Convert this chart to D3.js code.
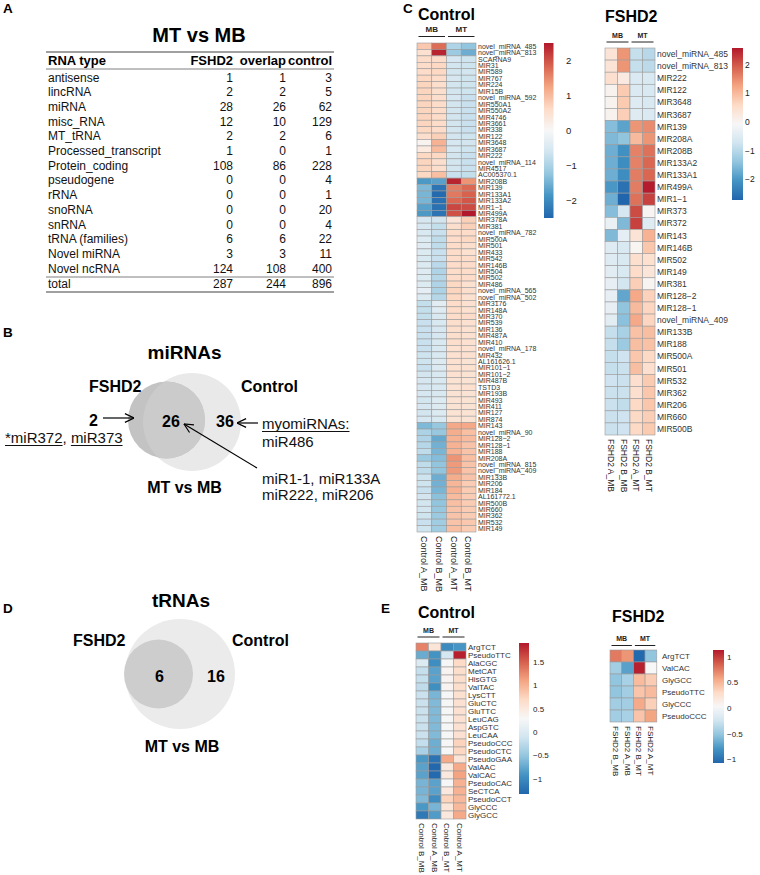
<!DOCTYPE html>
<html><head><meta charset="utf-8">
<script src="https://cdn.jsdelivr.net/npm/d3@7"></script>
<style>body{margin:0;background:#fff}svg{display:block}text{font-family:"Liberation Sans",Arial,Helvetica,sans-serif}</style>
</head><body><svg id="fig" width="760" height="875"></svg>
<script>
// ---------------- DATA ----------------
const tableHeader = ["RNA type", "FSHD2", "overlap", "control"];
const rnaTypes = ["antisense","lincRNA","miRNA","misc_RNA","MT_tRNA","Processed_transcript","Protein_coding","pseudogene","rRNA","snoRNA","snRNA","tRNA (families)","Novel miRNA","Novel ncRNA"];
const fshd2Counts   = [1,2,28,12,2,1,108,0,0,0,0,6,3,124];
const overlapCounts = [1,2,26,10,2,0,86,0,0,0,0,6,3,108];
const controlCounts = [3,5,62,129,6,1,228,4,1,20,4,22,11,400];
const totalCounts   = [287,244,896];

const miVennCounts = [2, 26, 36];   // FSHD2 only, overlap, Control only
const tVennCounts  = [6, 16];       // overlap, Control only

const palette = ["#2166ac","#4393c3","#92c5de","#d1e5f0","#f7f7f7","#fddbc7","#f4a582","#d6604d","#b2182b"];

// Control miRNA heatmap
const ctrlMiRows = ["novel_miRNA_485","novel_miRNA_813","SCARNA9","MIR31","MIR589","MIR767","MIR224","MIR15B","novel_miRNA_592","MIR550A1","MIR550A2","MIR4746","MIR3661","MIR338","MIR122","MIR3648","MIR3687","MIR222","novel_miRNA_114","MIR4517","AC005370.1","MIR208B","MIR139","MIR133A1","MIR133A2","MIR1\u22121","MIR499A","MIR378A","MIR381","novel_miRNA_782","MIR500A","MIR501","MIR433","MIR542","MIR146B","MIR504","MIR502","MIR486","novel_miRNA_565","novel_miRNA_502","MIR3176","MIR148A","MIR370","MIR539","MIR136","MIR487A","MIR410","novel_miRNA_178","MIR432","AL161626.1","MIR101\u22121","MIR101\u22122","MIR487B","TSTD3","MIR193B","MIR493","MIR411","MIR127","MIR874","MIR143","novel_miRNA_90","MIR128\u22122","MIR128\u22121","MIR188","MIR208A","novel_miRNA_815","novel_miRNA_409","MIR133B","MIR206","MIR184","AL161772.1","MIR500B","MIR660","MIR362","MIR532","MIR149"];
const ctrlMiCols = ["Control A_MB","Control B_MB","Control A_MT","Control B_MT"];
const ctrlMi_A_MB = [0.85,0.5, 0.6,0.6,0.6,0.65,0.7,0.7,0.7,0.7,0.7,0.7,0.7,0.65,0.55,0.1,0.3,0.65,0.7,0.7,0.65, -1.8,-1.4,-1.45,-1.45,-1.7,-1.8, -0.55,-0.55,-0.5,-0.45,-0.4,-0.45,-0.5,-0.45,-0.4,-0.45,-0.45,-0.3,-0.45, -0.75,-0.75,-0.75,-0.7,-0.7,-0.7,-0.7,-0.7,-0.65,-0.65,-0.7,-0.6,-0.55,-0.55,-0.55,-0.6,-0.55,-0.6,-0.55, -1.4,-1.0,-0.95,-0.9,-0.8,-1.15,-0.8,-0.8,-0.65,-0.65,-0.7,-0.6,-0.6,-0.6,-0.65,-0.7,-0.65];
const ctrlMi_B_MB = [1.75,2.4, 0.6,0.65,0.65,0.6,0.55,0.55,0.55,0.6,0.6,0.6,0.6,0.6,0.75,1.1,1.0,0.65,0.55,0.55,0.95, -1.7,-2.3,-2.45,-2.35,-2.35,-2.3, -0.6,-0.75,-0.7,-0.8,-0.8,-0.7,-0.7,-0.85,-0.95,-0.9,-0.95,-1.0,-0.9, -0.35,-0.4,-0.5,-0.5,-0.55,-0.55,-0.5,-0.5,-0.5,-0.45,-0.45,-0.5,-0.5,-0.5,-0.5,-0.45,-0.45,-0.45,-0.5, -1.2,-1.2,-1.6,-1.5,-1.45,-1.35,-1.25,-1.25,-1.55,-1.5,-1.45,-1.3,-1.25,-1.2,-1.15,-1.1,-1.1];
const ctrlMi_A_MT = [-0.95,-1.15, -0.55,-0.6,-0.6,-0.55,-0.6,-0.6,-0.55,-0.6,-0.6,-0.6,-0.6,-0.6,-0.6,-0.55,-0.55,-0.6,-0.6,-0.6,-0.7, 2.4,1.6,1.65,1.8,2.1,2.0, 0.4,0.55,0.6,0.6,0.6,0.6,0.6,0.6,0.6,0.6,0.65,0.7,0.65, 0.6,0.6,0.6,0.55,0.55,0.55,0.55,0.5,0.5,0.5,0.5,0.5,0.45,0.45,0.45,0.45,0.45,0.45,0.45, 1.2,1.15,1.1,1.1,1.1,1.4,1.35,1.35,1.15,1.05,1.1,1.0,0.95,0.9,0.9,0.9,0.95];
const ctrlMi_B_MT = [-1.25,-1.55, -0.65,-0.65,-0.6,-0.65,-0.65,-0.65,-0.7,-0.7,-0.7,-0.7,-0.7,-0.7,-0.65,-0.6,-0.65,-0.7,-0.7,-0.7,-0.75, 1.4,1.8,1.85,1.95,2.05,2.5, 0.75,0.75,0.6,0.65,0.55,0.5,0.6,0.6,0.6,0.6,0.5,0.55,0.5, 0.5,0.5,0.6,0.5,0.5,0.5,0.5,0.5,0.5,0.45,0.5,0.45,0.45,0.5,0.45,0.45,0.45,0.45,0.45, 1.2,0.95,1.0,0.9,0.9,0.95,0.9,0.9,0.9,0.8,0.8,0.8,0.8,0.8,0.8,0.85,0.8];
const ctrlMiRange = [-2.5, 2.5];
const ctrlMiTicks = [2, 1, 0, -1, -2];

// FSHD2 miRNA heatmap
const fshdMiRows = ["novel_miRNA_485","novel_miRNA_813","MIR222","MIR122","MIR3648","MIR3687","MIR139","MIR208A","MIR208B","MIR133A2","MIR133A1","MIR499A","MIR1\u22121","MIR373","MIR372","MIR143","MIR146B","MIR502","MIR149","MIR381","MIR128\u22122","MIR128\u22121","novel_miRNA_409","MIR133B","MIR188","MIR500A","MIR501","MIR532","MIR362","MIR206","MIR660","MIR500B"];
const fshdMiCols = ["FSHD2 A_MB","FSHD2 B_MB","FSHD2 A_MT","FSHD2 B_MT"];
const fshdMi_A_MB = [0.4,0.4,0.5,0.05,0.05,0.05,-1.5,-1.55,-1.7,-1.7,-1.7,-2.0,-1.7,-1.5,-0.3,-1.55,-0.5,-0.5,-0.45,-0.35,-0.35,-0.35,-0.45,-0.85,-0.85,-0.85,-0.85,-0.75,-0.8,-0.8,-0.8,-0.8];
const fshdMi_B_MB = [1.4,1.4,0.25,0.8,0.8,0.75,-1.85,-1.4,-2.1,-2.15,-2.15,-2.55,-2.72,-0.65,-1.55,-0.4,-0.6,-0.6,-0.6,-0.7,-1.8,-1.4,-1.45,-1.15,-1.3,-0.75,-0.8,-0.8,-0.8,-0.9,-0.75,-0.75];
const fshdMi_A_MT = [-0.86,-0.86,-0.55,-0.55,-0.5,-0.5,1.4,1.0,1.6,1.6,1.65,1.65,1.75,2.1,2.2,0.4,0.0,0.5,0.55,0.75,1.2,1.0,1.2,0.9,0.95,0.85,0.95,0.5,0.5,0.6,0.6,0.6];
const fshdMi_B_MT = [-1.0,-0.95,-0.6,-0.6,-0.6,-0.55,1.5,1.4,1.75,1.85,1.85,2.55,2.2,0.0,-0.5,1.1,0.85,0.45,0.35,0.0,0.7,0.65,0.65,0.95,0.9,0.6,0.5,0.8,0.85,0.85,0.75,0.8];
const fshdMiRange = [-2.72, 2.58];
const fshdMiTicks = [2, 1, 0, -1, -2];

// Control tRNA heatmap
const ctrlTRows = ["ArgTCT","PseudoTTC","AlaCGC","MetCAT","HisGTG","ValTAC","LysCTT","GluCTC","GluTTC","LeuCAG","AspGTC","LeuCAA","PseudoCCC","PseudoCTC","PseudoGAA","ValAAC","ValCAC","PseudoCAC","SeCTCA","PseudoCCT","GlyCCC","GlyGCC"];
const ctrlTCols = ["Control B_MB","Control A_MB","Control B_MT","Control A_MT"];
const ctrlT_B_MB = [1.3,-0.72,0.0,-0.19,-0.19,-0.22,-0.15,-0.15,-0.15,-0.15,-0.15,-0.15,-0.2,-0.36,-0.88,-0.8,-0.8,-0.65,-0.65,-0.6,-0.88,-1.15];
const ctrlT_A_MB = [0.55,-0.92,-0.96,-0.8,-0.8,-0.95,-0.64,-0.6,-0.6,-0.6,-0.6,-0.6,-0.7,-0.7,-1.2,-1.3,-1.28,-0.8,-0.8,-0.97,-0.65,-0.85];
const ctrlT_B_MT = [-1.0,-0.07,0.3,0.35,0.35,0.35,0.3,0.3,0.3,0.3,0.3,0.3,0.3,0.3,1.05,0.5,0.5,0.3,0.5,0.75,0.55,0.5];
const ctrlT_A_MT = [-0.9,1.86,0.69,0.65,0.65,0.65,0.62,0.6,0.6,0.6,0.6,0.6,0.75,0.72,0.55,1.05,1.1,1.0,1.0,0.95,0.95,1.05];
const ctrlTRange = [-1.32, 1.9];
const ctrlTTicks = [1.5, 1, 0.5, 0, -0.5, -1];

// FSHD2 tRNA heatmap
const fshdTRows = ["ArgTCT","ValCAC","GlyGCC","PseudoTTC","GlyCCC","PseudoCCC"];
const fshdTCols = ["FSHD2 B_MB","FSHD2 A_MB","FSHD2 B_MT","FSHD2 A_MT"];
const fshdT_B_MB = [0.75,-0.45,-0.52,-0.52,-0.45,-0.45];
const fshdT_A_MB = [0.64,-0.72,-0.42,-0.45,-0.45,-0.42];
const fshdT_B_MT = [-1.05,1.1,0.47,0.42,0.55,0.42];
const fshdT_A_MT = [-0.52,0.03,0.38,0.47,0.36,0.58];
const fshdTRange = [-1.07, 1.13];
const fshdTTicks = [1, 0.5, 0, -0.5, -1];

// ---------------- DRAW ----------------
const svg = d3.select("#fig");
const defs = svg.append("defs");
defs.append("marker").attr("id","arr").attr("viewBox","0 0 10 10").attr("refX",9.6).attr("refY",5)
  .attr("markerWidth",10).attr("markerHeight",10).attr("markerUnits","userSpaceOnUse").attr("orient","auto")
  .append("path").attr("d","M0.5,0.6 L9.6,5 L0.5,9.4").attr("fill","none").attr("stroke","#000").attr("stroke-width",1.2);

function txt(g, x, y, s, size, opts = {}) {
  return g.append("text").attr("x", x).attr("y", y).text(s)
    .attr("font-size", size).attr("font-weight", opts.bold ? "bold" : null)
    .attr("text-anchor", opts.anchor || "start").attr("fill", opts.fill || "#000");
}

// Panel letters
const letters = [["A",3,13],["B",3,337],["C",403,13],["D",3,613],["E",381,613]];
letters.forEach(([l,x,y]) => txt(svg, x, y, l, 13.5, {bold:true}));

// ---- Panel A: table ----
const gA = svg.append("g");
txt(gA, 199, 42, "MT vs MB", 20, {bold:true, anchor:"middle"});
const colRight = [233, 286, 332];
const tx0 = 48, lineX0 = 46, lineX1 = 334;
[52, 69, 277, 292].forEach((ly, i) => gA.append("line").attr("x1", lineX0).attr("x2", lineX1)
  .attr("y1", ly).attr("y2", ly).attr("stroke", "#808080").attr("stroke-width", i === 0 || i === 3 ? 1.6 : 1.1));
txt(gA, tx0, 65, tableHeader[0], 13, {bold:true});
tableHeader.slice(1).forEach((h, i) => txt(gA, colRight[i], 65, h, 13, {bold:true, anchor:"end"}));
const rowY = d3.scaleLinear().domain([0, rnaTypes.length]).range([81.5, 81.5 + 14.7 * rnaTypes.length]);
const tableRows = rnaTypes.map((t, i) => ({t, v:[fshd2Counts[i], overlapCounts[i], controlCounts[i]], i}));
tableRows.forEach(r => {
  txt(gA, tx0, rowY(r.i), r.t, 12, {fill:"#111"});
  r.v.forEach((v, j) => txt(gA, colRight[j], rowY(r.i), v, 12, {anchor:"end", fill:"#111"}));
});
txt(gA, tx0, 287.5, "total", 12, {fill:"#111"});
totalCounts.forEach((v, j) => txt(gA, colRight[j], 287.5, v, 12, {anchor:"end", fill:"#111"}));

// ---- Panel B: miRNA venn ----
const gB = svg.append("g");
defs.append("clipPath").attr("id","clipCtrlB").append("circle").attr("cx",192).attr("cy",422).attr("r",49);
gB.append("circle").attr("cx",192).attr("cy",422).attr("r",49).attr("fill","#e9e9e9");
gB.append("circle").attr("cx",166.5).attr("cy",420).attr("r",38.5).attr("fill","#c3c3c3");
gB.append("circle").attr("cx",166.5).attr("cy",420).attr("r",38.5).attr("fill","#cbcbcb").attr("clip-path","url(#clipCtrlB)");
txt(gB, 184.5, 359, "miRNAs", 19, {bold:true, anchor:"middle"});
txt(gB, 89, 392, "FSHD2", 16, {bold:true});
txt(gB, 241, 392, "Control", 16, {bold:true});
txt(gB, 89, 426, miVennCounts[0], 16, {bold:true});
txt(gB, 162, 427, miVennCounts[1], 16, {bold:true});
txt(gB, 216, 427, miVennCounts[2], 16, {bold:true});
txt(gB, 184.5, 493, "MT vs MB", 16, {bold:true, anchor:"middle"});
const arrows = [[103,418,134,418],[258,423,237,423],[257,468,184,424]];
arrows.forEach(a => gB.append("line").attr("x1",a[0]).attr("y1",a[1]).attr("x2",a[2]).attr("y2",a[3])
  .attr("stroke","#000").attr("stroke-width",1.2).attr("marker-end","url(#arr)"));
function underlined(g, x, y, s, size) {
  const t = txt(g, x, y, s, size, {fill:"#111"});
  const w = t.node().getComputedTextLength();
  g.append("line").attr("x1", x).attr("x2", x + w).attr("y1", y + 2.5).attr("y2", y + 2.5).attr("stroke", "#111").attr("stroke-width", 1);
  return w;
}
{
  let x = 5;
  x += underlined(gB, x, 443, "*miR372", 15);
  const c = txt(gB, x, 443, ",\u00a0", 15, {fill:"#111"});
  x += c.node().getComputedTextLength();
  underlined(gB, x, 443, "miR373", 15);
}
underlined(gB, 262, 429, "myomiRNAs:", 15);
txt(gB, 262, 447, "miR486", 15, {fill:"#111"});
txt(gB, 262, 484, "miR1-1, miR133A", 15, {fill:"#111"});
txt(gB, 262, 500, "miR222, miR206", 15, {fill:"#111"});

// ---- Panel D: tRNA venn ----
const gD = svg.append("g");
gD.append("circle").attr("cx",180).attr("cy",674).attr("r",55).attr("fill","#ebebeb");
gD.append("circle").attr("cx",158.5).attr("cy",674).attr("r",34.5).attr("fill","#cdcdcd");
txt(gD, 181, 607, "tRNAs", 19, {bold:true, anchor:"middle"});
txt(gD, 73, 646, "FSHD2", 16, {bold:true});
txt(gD, 232, 646, "Control", 16, {bold:true});
txt(gD, 155, 682, tVennCounts[0], 16, {bold:true});
txt(gD, 207, 682, tVennCounts[1], 16, {bold:true});
txt(gD, 182, 752, "MT vs MB", 16, {bold:true, anchor:"middle"});

// ---- Heatmaps ----
let gradId = 0;
function heatmap(c) {
  const g = svg.append("g");
  const x = d3.scaleBand().domain(c.cols).range([c.x0, c.x0 + c.cw * c.cols.length]);
  const y = d3.scaleBand().domain(c.rows).range([c.y0, c.y1]);
  const [mn, mx] = c.range;
  const color = d3.scaleLinear().domain(palette.map((_, i) => mn + i * (mx - mn) / (palette.length - 1)))
    .range(palette).clamp(true);
  const cells = [];
  c.rows.forEach((r, i) => c.cols.forEach((cl, j) => cells.push({r, c: cl, v: c.values[j][i]})));
  g.selectAll("rect.cell").data(cells).join("rect").attr("class","cell")
    .attr("x", d => x(d.c)).attr("y", d => y(d.r))
    .attr("width", x.bandwidth()).attr("height", y.bandwidth())
    .attr("fill", d => color(d.v)).attr("stroke", "#9c9c9c").attr("stroke-width", 0.6);
  g.selectAll("text.rl").data(c.rows).join("text").attr("class","rl")
    .attr("x", c.labelX).attr("y", d => y(d) + y.bandwidth() / 2).attr("dy","0.36em")
    .attr("font-size", c.labelFont).attr("fill", "#333").text(d => d);
  g.selectAll("text.cl").data(c.cols).join("text").attr("class","cl")
    .attr("transform", d => `translate(${x(d) + x.bandwidth() / 2},${c.colLabelY}) rotate(90)`)
    .attr("dy","0.36em").attr("font-size", c.colFont).attr("fill", "#222").text(d => d);
  txt(g, c.titleX, c.titleY, c.title, 16, {bold:true});
  const groups = [["MB", c.cols.slice(0, 2)], ["MT", c.cols.slice(2, 4)]];
  groups.forEach(([name, cs]) => {
    const gx0 = x(cs[0]) + 1.5, gx1 = x(cs[1]) + x.bandwidth() - 1.5;
    txt(g, (gx0 + gx1) / 2, c.grpY, name, c.grpFont, {bold:true, anchor:"middle", fill:"#222"});
    g.append("line").attr("x1", gx0).attr("x2", gx1).attr("y1", c.grpY + 4.5).attr("y2", c.grpY + 4.5)
      .attr("stroke", "#222").attr("stroke-width", 1);
  });
  const id = "grad" + (gradId++);
  const lg = defs.append("linearGradient").attr("id", id).attr("x1",0).attr("y1",1).attr("x2",0).attr("y2",0);
  palette.forEach((p, i) => lg.append("stop").attr("offset", i / (palette.length - 1)).attr("stop-color", p));
  const ly = d3.scaleLinear().domain(c.range).range([c.legB, c.legT]);
  g.append("rect").attr("x", c.legX).attr("y", c.legT).attr("width", c.legW).attr("height", c.legB - c.legT)
    .attr("fill", `url(#${id})`);
  g.selectAll("text.tk").data(c.ticks).join("text").attr("class","tk")
    .attr("x", c.tickX).attr("y", d => ly(d)).attr("dy","0.36em").attr("font-size", c.tickFont).attr("fill","#222")
    .text(d => d < 0 ? "\u2212" + Math.abs(d) : String(d));
}

heatmap({rows: ctrlMiRows, cols: ctrlMiCols, values: [ctrlMi_A_MB, ctrlMi_B_MB, ctrlMi_A_MT, ctrlMi_B_MT],
  range: ctrlMiRange, ticks: ctrlMiTicks, x0: 417, cw: 14.75, y0: 43, y1: 532, labelX: 478, labelFont: 7,
  colLabelY: 536, colFont: 9, title: "Control", titleX: 418, titleY: 20, grpY: 32, grpFont: 8,
  legX: 544, legW: 9.5, legT: 43, legB: 218, tickX: 566, tickFont: 9.5});

heatmap({rows: fshdMiRows, cols: fshdMiCols, values: [fshdMi_A_MB, fshdMi_B_MB, fshdMi_A_MT, fshdMi_B_MT],
  range: fshdMiRange, ticks: fshdMiTicks, x0: 605, cw: 12.5, y0: 48, y1: 435, labelX: 657, labelFont: 8.5,
  colLabelY: 439, colFont: 8.5, title: "FSHD2", titleX: 605, titleY: 22, grpY: 37.5, grpFont: 7,
  legX: 732, legW: 11, legT: 48, legB: 200, tickX: 745, tickFont: 8.5});

heatmap({rows: ctrlTRows, cols: ctrlTCols, values: [ctrlT_B_MB, ctrlT_A_MB, ctrlT_B_MT, ctrlT_A_MT],
  range: ctrlTRange, ticks: ctrlTTicks, x0: 416, cw: 12.5, y0: 643, y1: 819, labelX: 468, labelFont: 8,
  colLabelY: 823, colFont: 8, title: "Control", titleX: 418, titleY: 618, grpY: 632.5, grpFont: 7,
  legX: 519, legW: 10, legT: 643, legB: 794, tickX: 533, tickFont: 8});

heatmap({rows: fshdTRows, cols: fshdTCols, values: [fshdT_B_MB, fshdT_A_MB, fshdT_B_MT, fshdT_A_MT],
  range: fshdTRange, ticks: fshdTTicks, x0: 610, cw: 11.7, y0: 650, y1: 722, labelX: 662, labelFont: 8,
  colLabelY: 726, colFont: 8, title: "FSHD2", titleX: 612, titleY: 622, grpY: 641, grpFont: 7,
  legX: 713, legW: 11, legT: 650, legB: 763, tickX: 727, tickFont: 8});
</script></body></html>
